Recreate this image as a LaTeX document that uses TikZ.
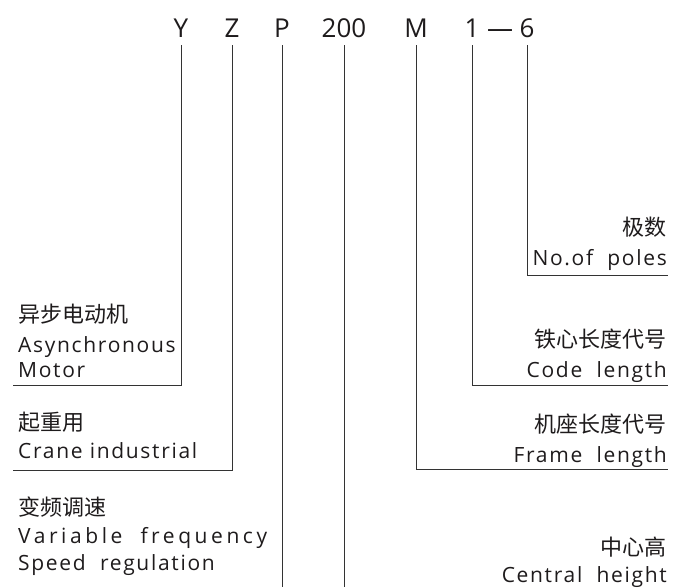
\documentclass[tikz,border=0pt]{standalone}
\usepackage{fontspec}
\setmainfont{Open Sans}[LetterSpace=8]
\newfontfamily\cjk{Noto Sans CJK SC}
\newfontfamily\codigo{Open Sans}
\definecolor{tinta}{HTML}{1E1B1C}
\definecolor{raya}{HTML}{333333}

\begin{document}
\begin{tikzpicture}[x=1pt,y=-1pt,
  every node/.style={inner sep=0pt,text=tinta},
  letra/.style={font=\codigo\fontsize{26}{26}\selectfont,anchor=base},
  zh/.style={font=\cjk\fontsize{22}{22}\selectfont},
  en/.style={font=\fontsize{21}{21}\selectfont},
  guia/.style={draw=raya,line width=1pt}]
\useasboundingbox (0,0) rectangle (674,587);

% modelo
\foreach \n/\x/\t in {Y/181/Y,Z/232/Z,P/282/P,N/344/200,M/416/M,U/472/1,S/527/6}
  \node[letra] (\n) at (\x,37) {\t};
\node[letra] (raya) at (500,37) {—};

% rotulos izquierda
\node[zh,anchor=base west] (mot1) at (18,322) {异步电动机};
\node[en,anchor=base west] (mot2) at (18,352) {Asynchronous};
\node[en,anchor=base west] (mot3) at (18,377) {Motor};
\node[zh,anchor=base west] (gru1) at (18,430) {起重用};
\node[en,anchor=base west] (gru2) at (18,458) {Crane industrial};
\node[zh,anchor=base west] (var1) at (18,515) {变频调速};
\node[en,anchor=base west] (var2) at (18,543) {\addfontfeature{LetterSpace=17}Variable\ \ frequency};
\node[en,anchor=base west] (var3) at (18,570) {Speed\ \ regulation};

% rotulos derecha
\node[zh,anchor=base east] (pol1) at (667,235) {极数};
\node[en,anchor=base east] (pol2) at (667,265) {No.of\ \ poles};
\node[zh,anchor=base east] (cod1) at (667,347) {铁心长度代号};
\node[en,anchor=base east] (cod2) at (667,377) {Code\ \ length};
\node[zh,anchor=base east] (fra1) at (667,432) {机座长度代号};
\node[en,anchor=base east] (fra2) at (667,462) {Frame\ \ length};
\node[zh,anchor=base east] (alt1) at (667,555) {中心高};
\node[en,anchor=base east] (alt2) at (667,582) {Central\ \ height};

% lineas
\coordinate (motor) at (13,385);
\coordinate (grua) at (13,470);
\coordinate (fondo) at (0,587);
\coordinate (polos) at (668,275);
\coordinate (codigo) at (668,385);
\coordinate (marco) at (668,469);
\draw[guia] ([yshift=-8pt]Y.south) |- (motor);
\draw[guia] ([yshift=-8pt]Z.south) |- (grua);
\draw[guia] ([yshift=-8pt]P.south) -- (P |- fondo);
\draw[guia] ([yshift=-8pt]N.south) -- (N |- fondo);
\draw[guia] ([yshift=-8pt]M.south) |- (marco);
\draw[guia] ([yshift=-8pt]U.south) |- (codigo);
\draw[guia] ([yshift=-8pt]S.south) |- (polos);

\end{tikzpicture}
\end{document}
